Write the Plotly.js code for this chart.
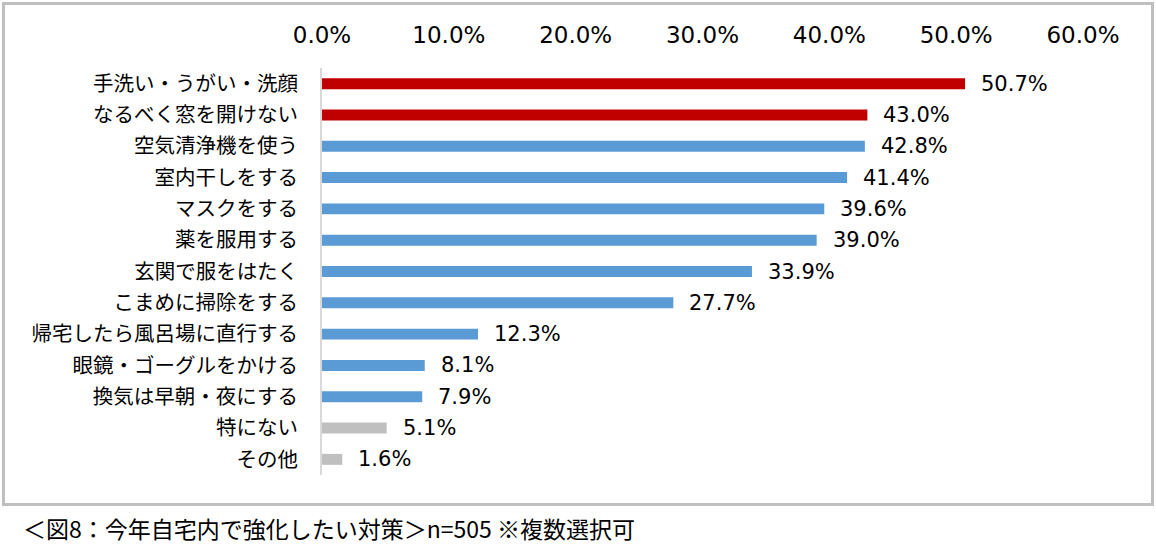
<!DOCTYPE html>
<html><head><meta charset="utf-8">
<script src="https://cdn.plot.ly/plotly-3.0.1.min.js"></script>
<style>html,body{margin:0;padding:0;background:#fff;}#chart{width:1156px;height:545px;}</style>
</head><body><div id="chart"></div>
<script>
const categories = ["手洗い・うがい・洗顔","なるべく窓を開けない","空気清浄機を使う","室内干しをする","マスクをする","薬を服用する","玄関で服をはたく","こまめに掃除をする","帰宅したら風呂場に直行する","眼鏡・ゴーグルをかける","換気は早朝・夜にする","特にない","その他"];
const values = [50.7,43.0,42.8,41.4,39.6,39.0,33.9,27.7,12.3,8.1,7.9,5.1,1.6];
const groups = ["top","top","main","main","main","main","main","main","main","main","main","none","none"];
const groupColors = {top:"#c00000", main:"#5b9bd5", none:"#bfbfbf"};
const tickVals = [0,10,20,30,40,50,60];
const tickText = ["0.0%","10.0%","20.0%","30.0%","40.0%","50.0%","60.0%"];
const caption = "＜図8：今年自宅内で強化したい対策＞n=505 ※複数選択可";

const trace = {
  type:"bar", orientation:"h",
  x: values, y: categories,
  marker:{color: groups.map(g=>groupColors[g])},
  width: 0.35,
  hoverinfo:"none"
};
const annotations = values.map((v,i)=>({
  x:v, y:categories[i], xref:"x", yref:"y",
  text: v.toFixed(1)+"%", showarrow:false, xanchor:"left", xshift:14,
  font:{family:"DejaVu Sans, Verdana, sans-serif", size:21, color:"#000"}
}));
annotations.push({
  xref:"paper", yref:"paper", x:-0.396, y:-0.13, xanchor:"left", yanchor:"middle",
  text: caption, showarrow:false,
  font:{family:"Noto Sans CJK JP, sans-serif", size:23, color:"#000"}
});
const layout = {
  width:1156, height:545,
  margin:{l:322, r:73, t:68, b:70},
  paper_bgcolor:"#fff", plot_bgcolor:"#fff",
  showlegend:false,
  bargap:0.65,
  xaxis:{side:"top", range:[0,60], tickvals:tickVals, ticktext:tickText,
    showgrid:false, zeroline:false, showline:false, ticks:"", ticklabelstandoff:19,
    tickfont:{family:"DejaVu Sans, Verdana, sans-serif", size:23, color:"#000"}, fixedrange:true},
  yaxis:{type:"category", range:[12.5,-0.5], showgrid:false, zeroline:false,
    showline:true, linecolor:"#d9d9d9", linewidth:2, ticks:"", ticklabelstandoff:18,
    tickfont:{family:"Noto Sans CJK JP, sans-serif", size:20.5, color:"#000"}, fixedrange:true},
  annotations: annotations,
  shapes:[{type:"rect", xref:"paper", yref:"paper",
    x0:(3.5-322)/761, x1:(1152.5-322)/761, y0:(475-504.5)/407, y1:(475-3.5)/407,
    line:{color:"#bfbfbf", width:3}, fillcolor:"rgba(0,0,0,0)", layer:"below"}]
};
Plotly.newPlot("chart",[trace],layout,{staticPlot:true, displayModeBar:false});
</script></body></html>
